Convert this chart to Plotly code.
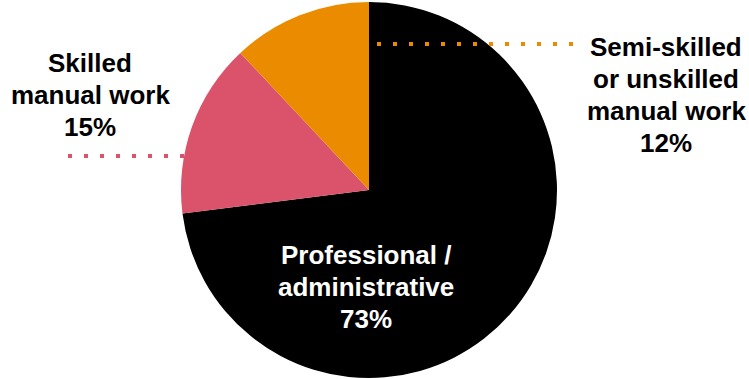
import plotly.graph_objects as go

# Occupation shares (%)
categories = ["Professional / administrative", "Skilled manual work", "Semi-skilled or unskilled manual work"]
label_lines = [["Professional /", "administrative"], ["Skilled", "manual work"], ["Semi-skilled", "or unskilled", "manual work"]]
shares = [73, 15, 12]
colors = ["#000000", "#DB536A", "#EB8C00"]

W, H = 749, 379


def px(x):
    return x / W


def py(y):
    return 1 - y / H


fig = go.Figure(
    go.Pie(
        labels=categories,
        values=shares,
        sort=False,
        direction="clockwise",
        rotation=0,
        marker=dict(colors=colors, line=dict(width=0)),
        textinfo="none",
        hoverinfo="skip",
        showlegend=False,
        domain=dict(x=[px(181), px(557)], y=[py(378), py(2)]),
    )
)

font = dict(family="Liberation Sans, Arial, sans-serif", size=26)
line_gap = 31.8
# (centre x, centre y, text colour) for each category label block
label_pos = [(366, 287, "#FFFFFF"), (90, 95, "#000000"), (666, 95, "#000000")]

for lines, val, (x, y, c) in zip(label_lines, shares, label_pos):
    rows = lines + [f"{val}%"]
    n = len(rows)
    for i, row in enumerate(rows):
        fig.add_annotation(
            x=px(x), y=py(y + (i - (n - 1) / 2) * line_gap),
            xref="paper", yref="paper",
            text=f"<b>{row}</b>", showarrow=False, align="center",
            xanchor="center", yanchor="middle",
            font=dict(color=c, **font),
        )

# dotted leader lines
fig.add_shape(type="line", xref="paper", yref="paper",
              x0=px(68), x1=px(188), y0=py(156), y1=py(156),
              line=dict(color=colors[1], width=4, dash="4px,12px"))
fig.add_shape(type="line", xref="paper", yref="paper",
              x0=px(377), x1=px(576), y0=py(44), y1=py(44),
              line=dict(color=colors[2], width=4, dash="4px,12px"))

fig.update_layout(
    width=W, height=H,
    margin=dict(l=0, r=0, t=0, b=0),
    paper_bgcolor="#FFFFFF",
    plot_bgcolor="#FFFFFF",
)

fig.write_html("out.html")
